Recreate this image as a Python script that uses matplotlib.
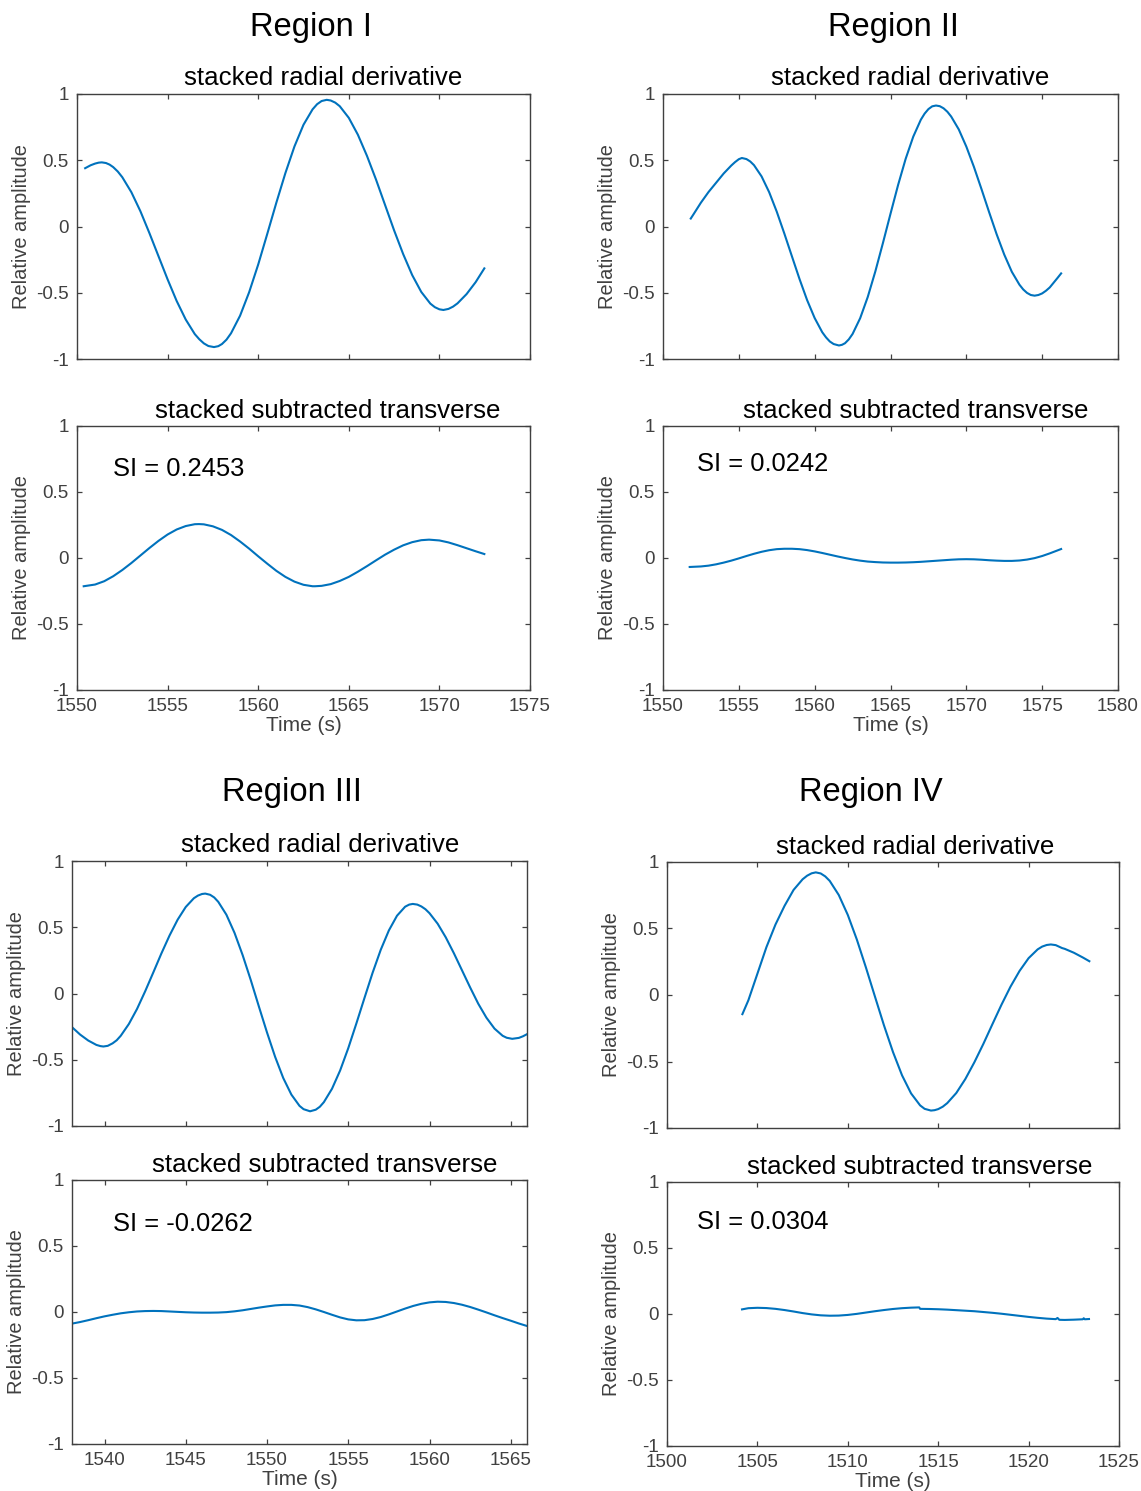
#! /usr/bin/env python3

import matplotlib
matplotlib.use("Agg")
import matplotlib.pyplot as plt

LINE_COLOR = "#0072BD"
AXIS_COLOR = "#404040"
FIG_W, FIG_H = 1141, 1491

plt.rcParams["font.family"] = ["Liberation Sans", "DejaVu Sans"]
plt.rcParams["axes.unicode_minus"] = False

REGION_NAMES = ["Region I", "Region II", "Region III", "Region IV"]
TOP_TITLE = "stacked radial derivative"
BOTTOM_TITLE = "stacked subtracted transverse"
SI_LABELS = ["SI = 0.2453", "SI = 0.0242", "SI = -0.0262", "SI = 0.0304"]
X_LIMITS = [(1550, 1575), (1550, 1580), (1538, 1566), (1500, 1525)]
X_TICKS = [
	[1550, 1555, 1560, 1565, 1570, 1575],
	[1550, 1555, 1560, 1565, 1570, 1575, 1580],
	[1540, 1545, 1550, 1555, 1560, 1565],
	[1500, 1505, 1510, 1515, 1520, 1525],
]
Y_TICKS = [-1, -0.5, 0, 0.5, 1]
Y_TICK_LABELS = ["-1", "-0.5", "0", "0.5", "1"]

# Region I
R1_RAD_T = [1550.45, 1550.75, 1551.0, 1551.2, 1551.37, 1551.6, 1551.8, 1552.0, 1552.25, 1552.5,
	1553.0, 1553.5, 1554.0, 1554.5, 1555.0, 1555.5, 1556.0, 1556.5, 1556.75, 1557.0,
	1557.25, 1557.56, 1557.8, 1558.0, 1558.25, 1558.5, 1559.0, 1559.5, 1560.0, 1560.5,
	1561.0, 1561.5, 1562.0, 1562.5, 1563.0, 1563.25, 1563.5, 1563.78, 1564.0, 1564.25,
	1564.5, 1565.0, 1565.5, 1566.0, 1566.5, 1567.0, 1567.5, 1568.0, 1568.5, 1569.0,
	1569.5, 1569.75, 1570.0, 1570.22, 1570.5, 1570.75, 1571.0, 1571.5, 1572.0, 1572.48]
R1_RAD_A = [0.44, 0.462, 0.475, 0.482, 0.484, 0.479, 0.467, 0.448, 0.415, 0.372,
	0.259, 0.115, -0.051, -0.225, -0.399, -0.562, -0.702, -0.812, -0.851, -0.882,
	-0.902, -0.91, -0.903, -0.887, -0.854, -0.806, -0.673, -0.496, -0.287, -0.056,
	0.179, 0.403, 0.604, 0.768, 0.884, 0.923, 0.947, 0.956, 0.951, 0.935,
	0.908, 0.820, 0.693, 0.534, 0.355, 0.163, -0.029, -0.208, -0.367, -0.494,
	-0.582, -0.609, -0.625, -0.63, -0.622, -0.605, -0.58, -0.51, -0.42, -0.316]
R1_TRA_T = [1550.37, 1551.0, 1551.5, 1552.0, 1552.5, 1553.0, 1553.5, 1554.0, 1554.5, 1555.0,
	1555.5, 1556.0, 1556.5, 1556.73, 1557.0, 1557.5, 1558.0, 1558.5, 1559.0, 1559.5,
	1560.0, 1560.5, 1561.0, 1561.5, 1562.0, 1562.5, 1563.0, 1563.13, 1563.5, 1564.0,
	1564.5, 1565.0, 1565.5, 1566.0, 1566.5, 1567.0, 1567.5, 1568.0, 1568.5, 1569.0,
	1569.43, 1570.0, 1570.5, 1571.0, 1571.5, 1572.0, 1572.48]
R1_TRA_A = [-0.214, -0.201, -0.176, -0.138, -0.091, -0.038, 0.019, 0.076, 0.130, 0.178,
	0.216, 0.242, 0.256, 0.257, 0.255, 0.240, 0.213, 0.174, 0.125, 0.071,
	0.013, -0.043, -0.097, -0.143, -0.179, -0.203, -0.214, -0.214, -0.211, -0.198,
	-0.174, -0.143, -0.104, -0.062, -0.018, 0.025, 0.063, 0.096, 0.120, 0.135,
	0.139, 0.133, 0.118, 0.097, 0.074, 0.051, 0.030]

# Region II
R2_RAD_T = [1551.83, 1552.0, 1552.5, 1553.0, 1553.5, 1554.0, 1554.5, 1554.75, 1555.0, 1555.2,
	1555.5, 1555.75, 1556.0, 1556.5, 1557.0, 1557.5, 1558.0, 1558.5, 1559.0, 1559.5,
	1560.0, 1560.5, 1560.75, 1561.0, 1561.25, 1561.6, 1561.8, 1562.0, 1562.25, 1562.5,
	1563.0, 1563.5, 1564.0, 1564.5, 1565.0, 1565.5, 1566.0, 1566.5, 1567.0, 1567.25,
	1567.5, 1567.75, 1568.0, 1568.25, 1568.5, 1568.75, 1569.0, 1569.5, 1570.0, 1570.5,
	1571.0, 1571.5, 1572.0, 1572.5, 1573.0, 1573.5, 1573.75, 1574.0, 1574.25, 1574.5,
	1574.75, 1575.0, 1575.25, 1575.5, 1576.0, 1576.25]
R2_RAD_A = [0.06, 0.09, 0.18, 0.26, 0.33, 0.40, 0.46, 0.486, 0.508, 0.517,
	0.509, 0.491, 0.463, 0.378, 0.259, 0.112, -0.053, -0.225, -0.396, -0.555,
	-0.691, -0.798, -0.837, -0.868, -0.887, -0.898, -0.893, -0.881, -0.852, -0.811,
	-0.692, -0.532, -0.339, -0.125, 0.096, 0.313, 0.511, 0.678, 0.806, 0.852,
	0.886, 0.907, 0.913, 0.908, 0.892, 0.866, 0.830, 0.733, 0.603, 0.450,
	0.282, 0.109, -0.059, -0.212, -0.342, -0.439, -0.475, -0.501, -0.517, -0.522,
	-0.517, -0.505, -0.485, -0.46, -0.39, -0.354]
R2_TRA_T = [1551.76, 1552.5, 1553.0, 1553.5, 1554.0, 1554.5, 1555.0, 1555.5, 1556.0, 1556.5,
	1557.0, 1557.5, 1558.0, 1558.5, 1559.0, 1559.5, 1560.0, 1560.5, 1561.0, 1561.5,
	1562.0, 1562.5, 1563.0, 1563.5, 1564.0, 1564.5, 1565.0, 1565.5, 1566.0, 1566.5,
	1567.0, 1567.5, 1568.0, 1568.5, 1569.0, 1569.5, 1570.0, 1570.5, 1571.0, 1571.5,
	1572.0, 1572.5, 1573.0, 1573.5, 1574.0, 1574.5, 1575.0, 1575.5, 1576.0, 1576.25]
R2_TRA_A = [-0.068, -0.064, -0.058, -0.048, -0.035, -0.020, -0.003, 0.015, 0.032, 0.047,
	0.059, 0.067, 0.070, 0.070, 0.067, 0.060, 0.050, 0.038, 0.025, 0.012,
	0.000, -0.011, -0.020, -0.027, -0.031, -0.034, -0.035, -0.035, -0.034, -0.032,
	-0.029, -0.025, -0.021, -0.017, -0.013, -0.010, -0.009, -0.010, -0.013, -0.017,
	-0.020, -0.022, -0.022, -0.019, -0.012, -0.001, 0.015, 0.035, 0.057, 0.068]

# Region III
R3_RAD_T = [1538.0, 1538.5, 1539.0, 1539.5, 1539.75, 1539.93, 1540.2, 1540.5, 1540.75, 1541.0,
	1541.5, 1542.0, 1542.5, 1543.0, 1543.5, 1544.0, 1544.5, 1545.0, 1545.5, 1545.75,
	1546.0, 1546.2, 1546.5, 1546.75, 1547.0, 1547.5, 1548.0, 1548.5, 1549.0, 1549.5,
	1550.0, 1550.5, 1551.0, 1551.5, 1552.0, 1552.25, 1552.65, 1553.0, 1553.25, 1553.5,
	1554.0, 1554.5, 1555.0, 1555.5, 1556.0, 1556.5, 1557.0, 1557.5, 1558.0, 1558.5,
	1558.75, 1558.97, 1559.25, 1559.5, 1559.75, 1560.0, 1560.5, 1561.0, 1561.5, 1562.0,
	1562.5, 1563.0, 1563.5, 1564.0, 1564.5, 1564.75, 1565.09, 1565.5, 1565.75, 1566.0]
R3_RAD_A = [-0.254, -0.31, -0.355, -0.388, -0.397, -0.40, -0.395, -0.376, -0.353, -0.319,
	-0.230, -0.117, 0.016, 0.158, 0.302, 0.437, 0.557, 0.653, 0.719, 0.739,
	0.751, 0.754, 0.745, 0.725, 0.692, 0.595, 0.458, 0.290, 0.102, -0.098,
	-0.294, -0.478, -0.638, -0.763, -0.848, -0.873, -0.889, -0.877, -0.855, -0.820,
	-0.719, -0.581, -0.413, -0.226, -0.033, 0.157, 0.330, 0.476, 0.587, 0.655,
	0.671, 0.676, 0.671, 0.657, 0.636, 0.606, 0.527, 0.424, 0.304, 0.175,
	0.046, -0.077, -0.182, -0.265, -0.319, -0.334, -0.342, -0.335, -0.323, -0.307]
R3_TRA_T = [1538.0, 1538.5, 1539.0, 1539.5, 1540.0, 1540.5, 1541.0, 1541.5, 1542.0, 1542.5,
	1543.0, 1543.5, 1544.0, 1544.5, 1545.0, 1545.5, 1546.0, 1546.5, 1547.0, 1547.5,
	1548.0, 1548.5, 1549.0, 1549.5, 1550.0, 1550.5, 1551.0, 1551.5, 1552.0, 1552.5,
	1553.0, 1553.5, 1554.0, 1554.5, 1555.0, 1555.5, 1556.0, 1556.5, 1557.0, 1557.5,
	1558.0, 1558.5, 1559.0, 1559.5, 1560.0, 1560.5, 1561.0, 1561.5, 1562.0, 1562.5,
	1563.0, 1563.5, 1564.0, 1564.5, 1565.0, 1565.5, 1566.0]
R3_TRA_A = [-0.088, -0.076, -0.062, -0.047, -0.033, -0.021, -0.010, -0.002, 0.004, 0.007,
	0.008, 0.007, 0.004, 0.001, -0.002, -0.004, -0.005, -0.005, -0.004, -0.001,
	0.005, 0.013, 0.023, 0.033, 0.042, 0.050, 0.054, 0.054, 0.049, 0.037,
	0.020, 0.000, -0.021, -0.041, -0.056, -0.063, -0.062, -0.053, -0.038, -0.018,
	0.004, 0.026, 0.046, 0.062, 0.073, 0.078, 0.076, 0.068, 0.055, 0.038,
	0.018, -0.003, -0.025, -0.046, -0.066, -0.087, -0.106]

# Region IV
R4_RAD_T = [1504.17, 1504.5, 1505.0, 1505.5, 1506.0, 1506.5, 1507.0, 1507.5, 1507.75, 1508.0,
	1508.23, 1508.5, 1508.75, 1509.0, 1509.5, 1510.0, 1510.5, 1511.0, 1511.5, 1512.0,
	1512.5, 1513.0, 1513.5, 1514.0, 1514.25, 1514.6, 1514.8, 1515.0, 1515.25, 1515.5,
	1516.0, 1516.5, 1517.0, 1517.5, 1518.0, 1518.5, 1519.0, 1519.5, 1520.0, 1520.5,
	1520.75, 1521.0, 1521.23, 1521.5, 1521.85, 1522.0, 1522.5, 1523.0, 1523.36]
R4_RAD_A = [-0.144, -0.04, 0.16, 0.36, 0.53, 0.67, 0.79, 0.87, 0.897, 0.915,
	0.922, 0.914, 0.892, 0.858, 0.752, 0.602, 0.417, 0.208, -0.011, -0.228,
	-0.429, -0.604, -0.740, -0.830, -0.856, -0.869, -0.866, -0.858, -0.840, -0.813,
	-0.737, -0.632, -0.506, -0.367, -0.219, -0.073, 0.063, 0.181, 0.277, 0.343,
	0.364, 0.376, 0.38, 0.375, 0.353, 0.347, 0.318, 0.282, 0.254]
R4_TRA_T = [1504.15, 1504.5, 1505.0, 1505.5, 1506.0, 1506.5, 1507.0, 1507.5, 1508.0, 1508.5,
	1509.0, 1509.5, 1510.0, 1510.5, 1511.0, 1511.5, 1512.0, 1512.5, 1513.0, 1513.5,
	1513.95, 1514.0, 1514.5, 1515.0, 1515.5, 1516.0, 1516.5, 1517.0, 1517.5, 1518.0,
	1518.5, 1519.0, 1519.5, 1520.0, 1520.5, 1521.0, 1521.5, 1521.6, 1521.7, 1522.0,
	1522.5, 1523.0, 1523.05, 1523.1, 1523.34]
R4_TRA_A = [0.035, 0.044, 0.047, 0.045, 0.039, 0.030, 0.019, 0.007, -0.003, -0.010,
	-0.013, -0.012, -0.007, 0.001, 0.011, 0.021, 0.030, 0.038, 0.044, 0.048,
	0.050, 0.039, 0.038, 0.036, 0.033, 0.029, 0.025, 0.021, 0.015, 0.009,
	0.002, -0.006, -0.014, -0.022, -0.029, -0.035, -0.039, -0.030, -0.044, -0.045,
	-0.043, -0.040, -0.032, -0.040, -0.038]

# layout, in pixels of the output image
# (left, right, top axes top, top axes bottom, bottom axes top, bottom axes bottom)
AXES_PX = [
	(77, 530, 94, 359, 426, 690),
	(663, 1118, 94, 359, 426, 690),
	(72, 527, 861, 1126, 1180, 1444),
	(667, 1119, 862, 1128, 1182, 1446),
]
REGION_TITLE_PX = [(311, 36), (893, 36), (292, 801), (871, 801)]
TOP_TITLE_PX = [(323, 85), (910, 85), (320, 852), (915, 854)]
BOTTOM_TITLE_PX = [(328, 418), (916, 418), (325, 1172), (920, 1174)]
SI_POS = [(1551.99, 0.621), (1552.27, 0.659), (1540.55, 0.614), (1501.64, 0.644)]


def px_rect(left: float, right: float, top: float, bottom: float) -> list[float]:
	return [left / FIG_W, 1 - bottom / FIG_H, (right - left) / FIG_W, (bottom - top) / FIG_H]


def fig_text(fig, xy: (float, float), text: str, size: float) -> None:
	fig.text(xy[0] / FIG_W, 1 - xy[1] / FIG_H, text, ha="center", va="baseline", fontsize=size, color="black")


def style_axes(ax, xlim, xticks, show_xlabels: bool) -> None:
	ax.set_xlim(xlim)
	ax.set_ylim(-1, 1)
	ax.set_xticks(xticks)
	ax.set_yticks(Y_TICKS)
	ax.set_yticklabels(Y_TICK_LABELS)
	ax.tick_params(direction="in", length=3.5, width=0.9, top=True, right=True,
		colors=AXIS_COLOR, labelsize=13.5, pad=6, labelbottom=show_xlabels)
	for spine in ax.spines.values():
		spine.set_color(AXIS_COLOR)
		spine.set_linewidth(1.0)
	ax.set_ylabel("Relative amplitude", fontsize=14.4, color=AXIS_COLOR)
	ax.yaxis.set_label_coords(-0.102, 0.5)
	if show_xlabels:
		ax.set_xlabel("Time (s)", fontsize=15, color=AXIS_COLOR)
		ax.xaxis.set_label_coords(0.5, -0.098)


def create_plot() -> None:
	fig = plt.figure(figsize=(FIG_W / 100, FIG_H / 100), dpi=100)
	radial = [(R1_RAD_T, R1_RAD_A), (R2_RAD_T, R2_RAD_A), (R3_RAD_T, R3_RAD_A), (R4_RAD_T, R4_RAD_A)]
	transverse = [(R1_TRA_T, R1_TRA_A), (R2_TRA_T, R2_TRA_A), (R3_TRA_T, R3_TRA_A), (R4_TRA_T, R4_TRA_A)]

	for i in range(4):
		left, right, t_top, t_bottom, b_top, b_bottom = AXES_PX[i]
		ax_top = fig.add_axes(px_rect(left, right, t_top, t_bottom))
		ax_bot = fig.add_axes(px_rect(left, right, b_top, b_bottom))

		ax_top.plot(radial[i][0], radial[i][1], color=LINE_COLOR, linewidth=1.5)
		ax_bot.plot(transverse[i][0], transverse[i][1], color=LINE_COLOR, linewidth=1.5)
		style_axes(ax_top, X_LIMITS[i], X_TICKS[i], False)
		style_axes(ax_bot, X_LIMITS[i], X_TICKS[i], True)

		ax_bot.text(SI_POS[i][0], SI_POS[i][1], SI_LABELS[i], ha="left", va="baseline", fontsize=18.4, color="black")

		fig_text(fig, REGION_TITLE_PX[i], REGION_NAMES[i], 23.6)
		fig_text(fig, TOP_TITLE_PX[i], TOP_TITLE, 18.6)
		fig_text(fig, BOTTOM_TITLE_PX[i], BOTTOM_TITLE, 18.6)

	fig.savefig("out.png", dpi=100)


if __name__ == "__main__":
	create_plot()
